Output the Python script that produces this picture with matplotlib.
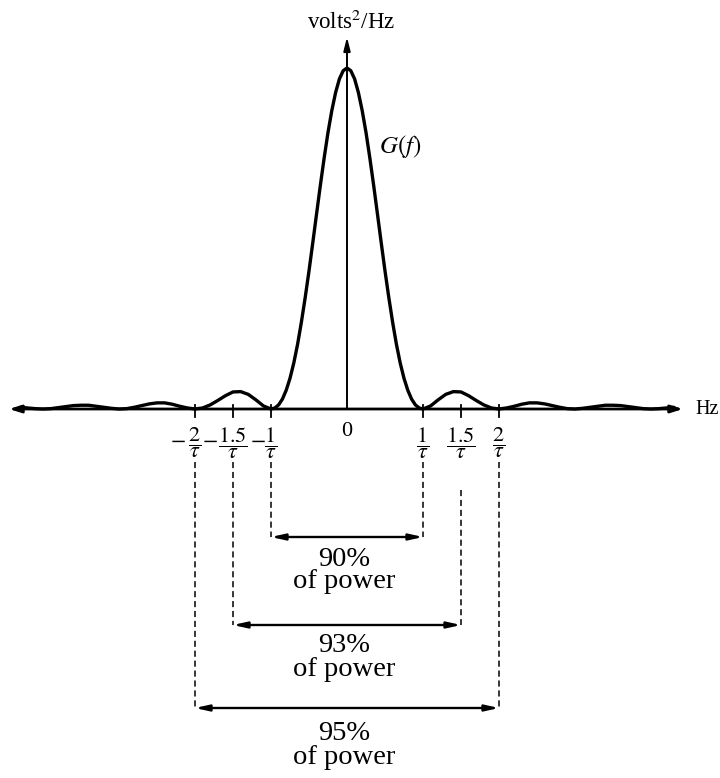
import matplotlib
matplotlib.use("Agg")
import matplotlib.pyplot as plt

plt.rcParams['font.family'] = ['Liberation Serif', 'DejaVu Serif']
plt.rcParams['mathtext.fontset'] = 'stix'

# G(f), f in units of 1/tau
freq = [-4.3, -4.2, -4.1, -4.0, -3.9, -3.8, -3.7, -3.6, -3.5, -3.4, -3.3, -3.2, -3.1,
        -3.0, -2.9, -2.8, -2.7, -2.6, -2.5, -2.4, -2.3, -2.2, -2.1,
        -2.0, -1.9, -1.8, -1.7, -1.6, -1.5, -1.4, -1.3, -1.2, -1.1,
        -1.0, -0.95, -0.9, -0.85, -0.8, -0.75, -0.7, -0.65, -0.6, -0.55, -0.5,
        -0.45, -0.4, -0.35, -0.3, -0.25, -0.2, -0.15, -0.1, -0.05,
        0.0, 0.05, 0.1, 0.15, 0.2, 0.25, 0.3, 0.35, 0.4, 0.45, 0.5,
        0.55, 0.6, 0.65, 0.7, 0.75, 0.8, 0.85, 0.9, 0.95,
        1.0, 1.1, 1.2, 1.3, 1.4, 1.5, 1.6, 1.7, 1.8, 1.9,
        2.0, 2.1, 2.2, 2.3, 2.4, 2.5, 2.6, 2.7, 2.8, 2.9,
        3.0, 3.1, 3.2, 3.3, 3.4, 3.5, 3.6, 3.7, 3.8, 3.9,
        4.0, 4.1, 4.2, 4.3]
power = [0.005, 0.003, 0.001, 0.000, 0.001, 0.004, 0.007, 0.010, 0.011, 0.011, 0.008, 0.005, 0.002,
         0.000, 0.001, 0.005, 0.010, 0.015, 0.018, 0.018, 0.014, 0.008, 0.003,
         0.000, 0.003, 0.012, 0.025, 0.039, 0.050, 0.051, 0.043, 0.027, 0.009,
         0.000, 0.003, 0.012, 0.029, 0.055, 0.090, 0.135, 0.190, 0.255, 0.327, 0.405,
         0.488, 0.573, 0.657, 0.737, 0.811, 0.875, 0.928, 0.968, 0.992,
         1.000, 0.992, 0.968, 0.928, 0.875, 0.811, 0.737, 0.657, 0.573, 0.488, 0.405,
         0.327, 0.255, 0.190, 0.135, 0.090, 0.055, 0.029, 0.012, 0.003,
         0.000, 0.009, 0.027, 0.043, 0.051, 0.050, 0.039, 0.025, 0.012, 0.003,
         0.000, 0.003, 0.008, 0.014, 0.018, 0.018, 0.015, 0.010, 0.005, 0.001,
         0.000, 0.002, 0.005, 0.008, 0.011, 0.011, 0.010, 0.007, 0.004, 0.001,
         0.000, 0.001, 0.003, 0.005]

tick_pos = [-2.0, -1.5, -1.0, 1.0, 1.5, 2.0]
tick_num = ['2', '1.5', '1', '1', '1.5', '2']

bands = [1.0, 1.5, 2.0]
band_labels = ['90%', '93%', '95%']

PX_X0, PX_SCALE_X = 347.0, 76.0
PX_Y0, PX_SCALE_Y = 409.0, 341.0


def fx(px):
    return (px - PX_X0) / PX_SCALE_X


def fy(py):
    return (PX_Y0 - py) / PX_SCALE_Y


fig = plt.figure(figsize=(7.2, 7.78), dpi=100)
ax = fig.add_axes([0, 0, 1, 1])
ax.set_xlim(fx(0), fx(720))
ax.set_ylim(fy(778), fy(0))
ax.axis('off')

# curve
ax.plot(freq, power, color='black', lw=2.4, solid_joinstyle='round',
        solid_capstyle='round', zorder=3)

# x axis with arrows at both ends
ax.annotate('', xy=(fx(683), 0), xytext=(fx(9), 0),
            arrowprops=dict(arrowstyle='<|-|>,head_length=0.7,head_width=0.22',
                            color='black', lw=2.0, shrinkA=0, shrinkB=0))
# y axis
ax.annotate('', xy=(0, fy(37)), xytext=(0, 0),
            arrowprops=dict(arrowstyle='-|>,head_length=0.8,head_width=0.2',
                            color='black', lw=1.4, shrinkA=0, shrinkB=0))

# small tick marks
for t in tick_pos:
    ax.plot([t, t], [fy(405), fy(417)], color='black', lw=1.3)

# labels
ax.text(fx(351), fy(22), r'volts$^2$/Hz', ha='center', va='center', fontsize=16.5)
ax.text(fx(695), fy(410), 'Hz', ha='left', va='center', fontsize=14.5)
ax.text(fx(379), fy(146), r'$G(f)$', ha='left', va='center', fontsize=18)
ax.text(0, fy(432), '0', ha='center', va='center', fontsize=16)

minus_dx = {-2.0: -17, -1.5: -23, -1.0: -13}
for t, n in zip(tick_pos, tick_num):
    ax.text(t, fy(443), r'$\dfrac{%s}{\tau}$' % n, ha='center', va='center', fontsize=16)
    if t < 0:
        ax.text(t + minus_dx[t] / PX_SCALE_X, fy(441), r'$-$', ha='center', va='center',
                fontsize=16)

# dashed guides and arrows
arrow_y = [537, 625, 708]
top_y = {(-1.0): 462, 1.0: 462, -1.5: 462, 1.5: 490, -2.0: 462, 2.0: 462}
txt1_y = [559, 646, 734]
txt2_y = [582, 670, 758]
for b, lab, ay, t1, t2 in zip(bands, band_labels, arrow_y, txt1_y, txt2_y):
    for s in (-b, b):
        ax.plot([s, s], [fy(top_y[s]), fy(ay)], color='black', lw=1.1,
                ls=(0, (4, 2.5)))
    ax.annotate('', xy=(b, fy(ay)), xytext=(-b, fy(ay)),
                arrowprops=dict(arrowstyle='<|-|>,head_length=0.8,head_width=0.18',
                                color='black', lw=1.7, shrinkA=0, shrinkB=0))
    ax.text(fx(344), fy(t1), lab, ha='center', va='center', fontsize=20.5)
    ax.text(fx(344), fy(t2), 'of power', ha='center', va='center', fontsize=20.5)

fig.savefig('out.png', dpi=100)
